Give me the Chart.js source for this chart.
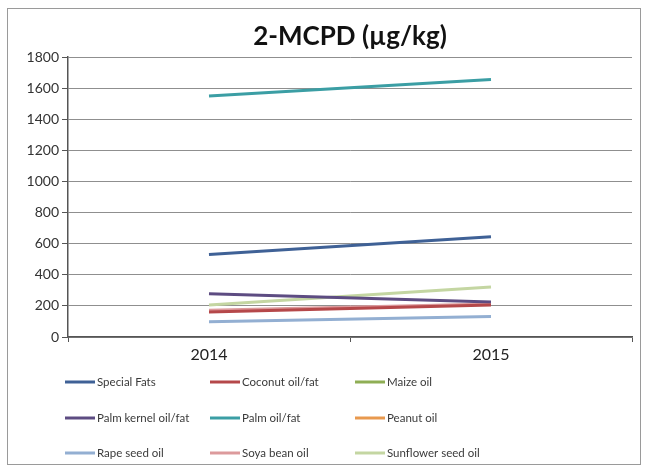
<!DOCTYPE html>
<html>
<head>
<meta charset="utf-8">
<script src="https://cdn.jsdelivr.net/npm/chart.js@4"></script>
<style>
  html, body { margin: 0; padding: 0; background: #fff; }
  #wrap { position: relative; width: 645px; height: 470px; }
  #frame { position: absolute; left: 7px; top: 8px; width: 634px; height: 457px; border: 1px solid #9a9a9a; box-sizing: border-box; }
  canvas { position: absolute; left: 0; top: 0; }
</style>
</head>
<body>
<div id="wrap">
  <div id="frame"></div>
  <canvas id="c" width="645" height="470"></canvas>
</div>
<script>
  var years = ['2014', '2015'];
  var specialFats = [530, 645];
  var coconutOil = [160, 205];
  var maizeOil = [null, null];
  var palmKernelOil = [278, 225];
  var palmOil = [1550, 1655];
  var peanutOil = [null, null];
  var rapeSeedOil = [98, 132];
  var soyaBeanOil = [172, 212];
  var sunflowerOil = [205, 322];
  var yTicks = [0, 200, 400, 600, 800, 1000, 1200, 1400, 1600, 1800];
  var chartTitle = '2-MCPD (µg/kg)';

  var font = 'Lato, "Open Sans", sans-serif';

  function series(label, data, color) {
    return {
      label: label,
      data: data,
      borderColor: color,
      backgroundColor: color,
      borderWidth: 3,
      pointRadius: 0,
      fill: false,
      tension: 0,
    };
  }

  var datasets = [
    series('Special Fats', specialFats, '#3f6196'),
    series('Coconut oil/fat', coconutOil, '#b5484a'),
    series('Maize oil', maizeOil, '#8fae55'),
    series('Palm kernel oil/fat', palmKernelOil, '#5d4c82'),
    series('Palm oil/fat', palmOil, '#3b9ea4'),
    series('Peanut oil', peanutOil, '#e8994e'),
    series('Rape seed oil', rapeSeedOil, '#93afd2'),
    series('Soya bean oil', soyaBeanOil, '#dc9a9c'),
    series('Sunflower seed oil', sunflowerOil, '#c4d6a2'),
  ];

  // title centred over the plot, legend in a 3x3 grid under it
  var extras = {
    id: 'extras',
    afterDraw: function (chart) {
      var ctx = chart.ctx;
      var area = chart.chartArea;
      ctx.save();
      ctx.font = 'bold 26px ' + font;
      ctx.fillStyle = '#111';
      ctx.textAlign = 'center';
      ctx.textBaseline = 'middle';
      ctx.fillText(chartTitle, (area.left + area.right) / 2, 37);

      var colX = [65, 210, 355];
      var rowY = [382, 418, 453];
      ctx.font = '11.5px ' + font;
      ctx.textAlign = 'left';
      ctx.fillStyle = '#3a3a3a';
      chart.data.datasets.forEach(function (ds, i) {
        var x = colX[i % 3];
        var y = rowY[Math.floor(i / 3)];
        ctx.strokeStyle = ds.borderColor;
        ctx.lineWidth = 3;
        ctx.beginPath();
        ctx.moveTo(x, y);
        ctx.lineTo(x + 30, y);
        ctx.stroke();
        ctx.fillText(ds.label, x + 32, y);
      });
      ctx.restore();
    },
  };

  new Chart(document.getElementById('c'), {
    type: 'line',
    data: { labels: years, datasets: datasets },
    plugins: [extras],
    options: {
      responsive: false,
      animation: false,
      layout: { padding: { left: 0, right: 13, top: 57, bottom: 103 } },
      plugins: {
        legend: { display: false },
        tooltip: { enabled: false },
        title: { display: false },
      },
      scales: {
        x: {
          offset: true,
          afterFit: function (s) { s.height = 30; },
          grid: {
            offset: true,
            drawOnChartArea: false,
            drawTicks: true,
            tickLength: 5,
            color: '#555',
          },
          border: { color: '#555', width: 1.5 },
          ticks: {
            color: '#222',
            font: { family: font, size: 16 },
            padding: 3,
          },
        },
        y: {
          min: 0,
          max: 1800,
          afterFit: function (s) { s.width = 68; },
          afterBuildTicks: function (s) {
            s.ticks = yTicks.map(function (v) { return { value: v }; });
          },
          grid: {
            color: '#8f8f8f',
            lineWidth: 1,
            tickLength: 6,
            tickColor: '#555',
          },
          border: { color: '#555', width: 1.5 },
          ticks: {
            color: '#333',
            font: { family: font, size: 14 },
            padding: 3,
            callback: function (v) { return String(v); },
          },
        },
      },
    },
  });
</script>
</body>
</html>
